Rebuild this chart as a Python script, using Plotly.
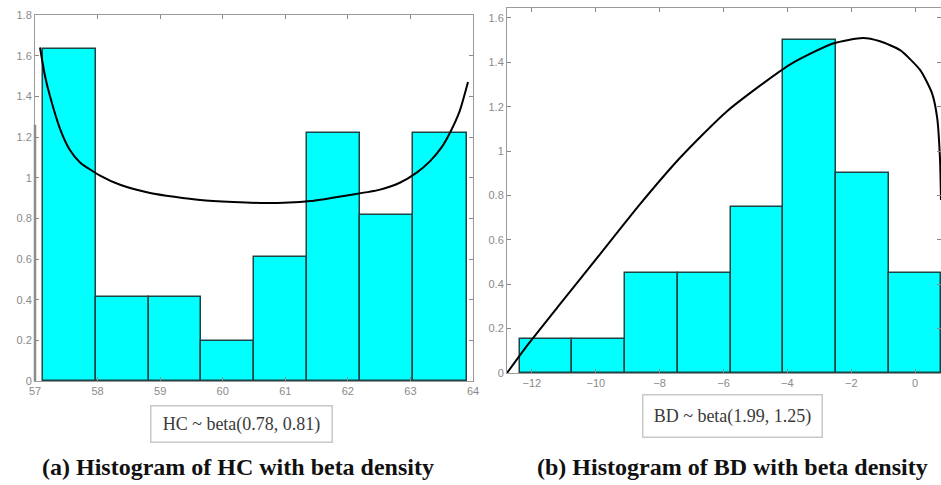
import plotly.graph_objects as go

# ---------- data: panel (a) HC ----------
hc_edges = [57.13, 57.98, 58.82, 59.66, 60.50, 61.35, 62.20, 63.04, 63.90]
hc_heights = [1.635, 0.415, 0.415, 0.197, 0.612, 1.22, 0.816, 1.22]
hc_curve_x = [57.08, 57.16, 57.24, 57.40, 57.55, 57.72, 58.04, 58.36, 58.84, 59.64, 60.69,
              61.40, 62.03, 62.50, 62.83, 63.10, 63.31, 63.50, 63.63, 63.79, 63.92]
hc_curve_y = [1.64, 1.50, 1.40, 1.24, 1.14, 1.075, 1.01, 0.965, 0.925, 0.89, 0.875,
              0.885, 0.915, 0.94, 0.975, 1.025, 1.08, 1.15, 1.22, 1.33, 1.47]
hc_xticks = [57, 58, 59, 60, 61, 62, 63, 64]
hc_yticks = [0, 0.2, 0.4, 0.6, 0.8, 1, 1.2, 1.4, 1.6, 1.8]

# ---------- data: panel (b) BD ----------
bd_edges = [-12.38, -10.73, -9.08, -7.43, -5.78, -4.13, -2.48, -0.83, 0.82]
bd_heights = [0.155, 0.155, 0.45, 0.45, 0.75, 1.50, 0.90, 0.45]
bd_curve_x = [-12.78, -12.22, -11.12, -9.87, -8.62, -7.36, -5.89, -3.92, -2.57,
              -1.63, -1.10, -0.47, 0.16, 0.53, 0.69, 0.78, 0.81]
bd_curve_y = [0.0, 0.11, 0.31, 0.535, 0.76, 0.97, 1.18, 1.39, 1.485,
              1.51, 1.495, 1.455, 1.365, 1.26, 1.15, 0.96, 0.78]
bd_xticks = [-12, -10, -8, -6, -4, -2, 0]
bd_yticks = [0, 0.2, 0.4, 0.6, 0.8, 1, 1.2, 1.4, 1.6]

labels = ["HC ~ beta(0.78, 0.81)", "BD ~ beta(1.99, 1.25)"]
captions = ["(a) Histogram of HC with beta density", "(b) Histogram of BD with beta density"]

W, H = 941, 485


def centers(edges):
    return [(a + b) / 2 for a, b in zip(edges[:-1], edges[1:])]


def widths(edges):
    return [b - a for a, b in zip(edges[:-1], edges[1:])]


fig = go.Figure()
bar_style = dict(marker=dict(color="#00FFFF", line=dict(color="#1d4444", width=1.5)),
                 showlegend=False, hoverinfo="skip")
fig.add_trace(go.Bar(x=centers(hc_edges), y=hc_heights, width=widths(hc_edges),
                     xaxis="x", yaxis="y", **bar_style))
fig.add_trace(go.Scatter(x=hc_curve_x, y=hc_curve_y, mode="lines",
                         line=dict(color="black", width=2, shape="spline", smoothing=0.6),
                         xaxis="x", yaxis="y", showlegend=False))
fig.add_trace(go.Bar(x=centers(bd_edges), y=bd_heights, width=widths(bd_edges),
                     xaxis="x2", yaxis="y2", **bar_style))
fig.add_trace(go.Scatter(x=bd_curve_x, y=bd_curve_y, mode="lines",
                         line=dict(color="black", width=2, shape="spline", smoothing=0.6),
                         xaxis="x2", yaxis="y2", showlegend=False))

tickfont = dict(family="Liberation Sans", size=11, color="#8a8a8a")
axis_common = dict(showgrid=False, zeroline=False, showline=True, linecolor="#9a9a9a", linewidth=1,
                   ticks="inside", ticklen=4, tickcolor="#8a8a8a", mirror="ticks", tickfont=tickfont,
                   automargin=False)


def px_x(p):
    return p / W


def px_y(p):
    return 1 - p / H


fig.update_layout(
    width=W, height=H, margin=dict(l=0, r=0, t=0, b=0, autoexpand=False),
    paper_bgcolor="white", plot_bgcolor="white", bargap=0,
    xaxis=dict(domain=[px_x(35), px_x(473)], range=[57, 64], tickvals=hc_xticks,
               anchor="y", **axis_common),
    yaxis=dict(domain=[px_y(381), px_y(15)], range=[0, 1.8], tickvals=hc_yticks,
               anchor="x", **axis_common),
    xaxis2=dict(domain=[px_x(507), 1.0], range=[-12.78, 0.81], tickvals=bd_xticks,
                anchor="y2", **axis_common),
    yaxis2=dict(domain=[px_y(373), px_y(8)], range=[0, 1.645], tickvals=bd_yticks,
                anchor="x2", **axis_common),
)

# thicker left spine of panel (a), as in the reference
fig.add_shape(type="line", xref="x domain", yref="y domain", x0=0, x1=0, y0=0, y1=0.7,
              line=dict(color="#8c8c8c", width=2.5))

box_font = dict(family="Liberation Serif", size=18, color="#3a3a3a")
fig.add_annotation(x=px_x(241), y=px_y(424), xref="paper", yref="paper", text=labels[0],
                   xanchor="center", yanchor="middle",
                   showarrow=False, font=box_font, bordercolor="#c8c8c8", borderwidth=1.5,
                   borderpad=2, width=176, height=31, bgcolor="white")
fig.add_annotation(x=px_x(732), y=px_y(416), xref="paper", yref="paper", text=labels[1],
                   xanchor="center", yanchor="middle",
                   showarrow=False, font=box_font, bordercolor="#c8c8c8", borderwidth=1.5,
                   borderpad=2, width=174, height=37, bgcolor="white")

cap_font = dict(family="Liberation Serif", size=24, color="#111111")
fig.add_annotation(x=px_x(238), y=px_y(467), xref="paper", yref="paper",
                   text="<b>" + captions[0] + "</b>", xanchor="center", yanchor="middle",
                   showarrow=False, font=cap_font)
fig.add_annotation(x=px_x(732), y=px_y(467), xref="paper", yref="paper",
                   text="<b>" + captions[1] + "</b>", xanchor="center", yanchor="middle",
                   showarrow=False, font=cap_font)

fig.write_html("out.html", config={"displayModeBar": False},
               post_script="document.body.style.margin='0';document.body.style.overflow='hidden';"
                           "document.documentElement.style.overflow='hidden';")
